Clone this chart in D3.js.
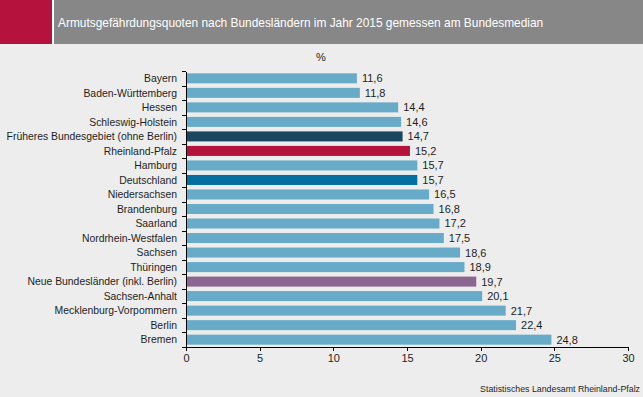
<!DOCTYPE html>
<html>
<head>
<meta charset="utf-8">
<script src="https://cdn.jsdelivr.net/npm/d3@7"></script>
<style>
  html, body { margin: 0; padding: 0; background: #ecedec; }
  svg { display: block; font-family: "Liberation Sans", Arial, sans-serif; }
  .axis path, .axis line { stroke: #000; shape-rendering: crispEdges; }
  .axis text { font-size: 11px; fill: #1e1e1e; }
</style>
</head>
<body>
<svg id="chart" width="643" height="397"></svg>
<script>
// Armutsgefährdungsquoten 2015 (Bundesmedian), in %
const laender = [
  'Bayern', 'Baden-Württemberg', 'Hessen', 'Schleswig-Holstein',
  'Früheres Bundesgebiet (ohne Berlin)', 'Rheinland-Pfalz', 'Hamburg',
  'Deutschland', 'Niedersachsen', 'Brandenburg', 'Saarland',
  'Nordrhein-Westfalen', 'Sachsen', 'Thüringen',
  'Neue Bundesländer (inkl. Berlin)', 'Sachsen-Anhalt',
  'Mecklenburg-Vorpommern', 'Berlin', 'Bremen'
];
const quoten = [11.6, 11.8, 14.4, 14.6, 14.7, 15.2, 15.7, 15.7, 16.5, 16.8,
  17.2, 17.5, 18.6, 18.9, 19.7, 20.1, 21.7, 22.4, 24.8];
const xTicks = [0, 5, 10, 15, 20, 25, 30];

const title = 'Armutsgefährdungsquoten nach Bundesländern im Jahr 2015 gemessen am Bundesmedian';
const source = 'Statistisches Landesamt Rheinland-Pfalz';

const colors = {
  'Früheres Bundesgebiet (ohne Berlin)': '#1b4660',
  'Rheinland-Pfalz': '#b5133e',
  'Deutschland': '#0570a0',
  'Neue Bundesländer (inkl. Berlin)': '#8b6690'
};
const defaultColor = '#68abc8';

const data = laender.map((name, i) => ({ name, val: quoten[i] }));

const svg = d3.select('#chart');
const W = 643;

// header
svg.append('rect').attr('x', 0).attr('y', 0).attr('width', W).attr('height', 44).attr('fill', '#878787');
svg.append('rect').attr('x', 0).attr('y', 0).attr('width', 52).attr('height', 44).attr('fill', '#b5133e');
svg.append('rect').attr('x', 52).attr('y', 0).attr('width', 2).attr('height', 44).attr('fill', '#fff');
svg.append('text')
  .attr('x', 58).attr('y', 27)
  .attr('fill', '#fff')
  .style('font-size', '11.9px')
  .text(title);

const plotLeft = 186, plotRight = 628, plotTop = 71, plotBottom = 347;

const x = d3.scaleLinear().domain([0, 30]).range([plotLeft, plotRight]);
const y = d3.scaleBand().domain(laender).range([plotTop, plotBottom])
  .paddingInner(0.31).paddingOuter(0.16);
const yIdx = d3.scaleLinear().domain([0, laender.length]).range([plotTop, plotBottom]);

const fmt = v => d3.format('.1f')(v).replace('.', ',');

// bars
svg.append('g').selectAll('rect')
  .data(data)
  .enter()
  .append('rect')
  .attr('x', x(0))
  .attr('y', d => y(d.name))
  .attr('width', d => x(d.val) - x(0))
  .attr('height', y.bandwidth())
  .attr('fill', d => colors[d.name] || defaultColor);

// value labels
svg.append('g').selectAll('text')
  .data(data)
  .enter()
  .append('text')
  .attr('x', d => x(d.val) + 5)
  .attr('y', d => y(d.name) + y.bandwidth() / 2)
  .attr('dy', '0.36em')
  .style('font-size', '11px')
  .attr('fill', '#1e1e1e')
  .text(d => fmt(d.val));

// category labels
svg.append('g').selectAll('text')
  .data(data)
  .enter()
  .append('text')
  .attr('x', plotLeft - 9)
  .attr('y', d => y(d.name) + y.bandwidth() / 2)
  .attr('dy', '0.36em')
  .attr('text-anchor', 'end')
  .style('font-size', '10.4px')
  .attr('fill', '#1e1e1e')
  .text(d => d.name);

// y axis: ticks between categories
svg.append('g')
  .attr('class', 'axis')
  .attr('transform', 'translate(' + plotLeft + ',0)')
  .call(d3.axisLeft(yIdx).tickValues(d3.range(laender.length + 1)).tickFormat('').tickSizeInner(4).tickSizeOuter(0));

// x axis
svg.append('g')
  .attr('class', 'axis')
  .attr('transform', 'translate(0,' + plotBottom + ')')
  .call(d3.axisBottom(x).tickValues(xTicks).tickSizeInner(4).tickSizeOuter(0));

svg.selectAll('.axis').attr('font-family', null).attr('font-size', null);

// unit
svg.append('text')
  .attr('x', 321).attr('y', 61)
  .attr('text-anchor', 'middle')
  .style('font-size', '11px')
  .attr('fill', '#1e1e1e')
  .text('%');

// source
svg.append('text')
  .attr('x', 640).attr('y', 392)
  .attr('text-anchor', 'end')
  .style('font-size', '8.8px')
  .attr('fill', '#1e1e1e')
  .text(source);
</script>
</body>
</html>
